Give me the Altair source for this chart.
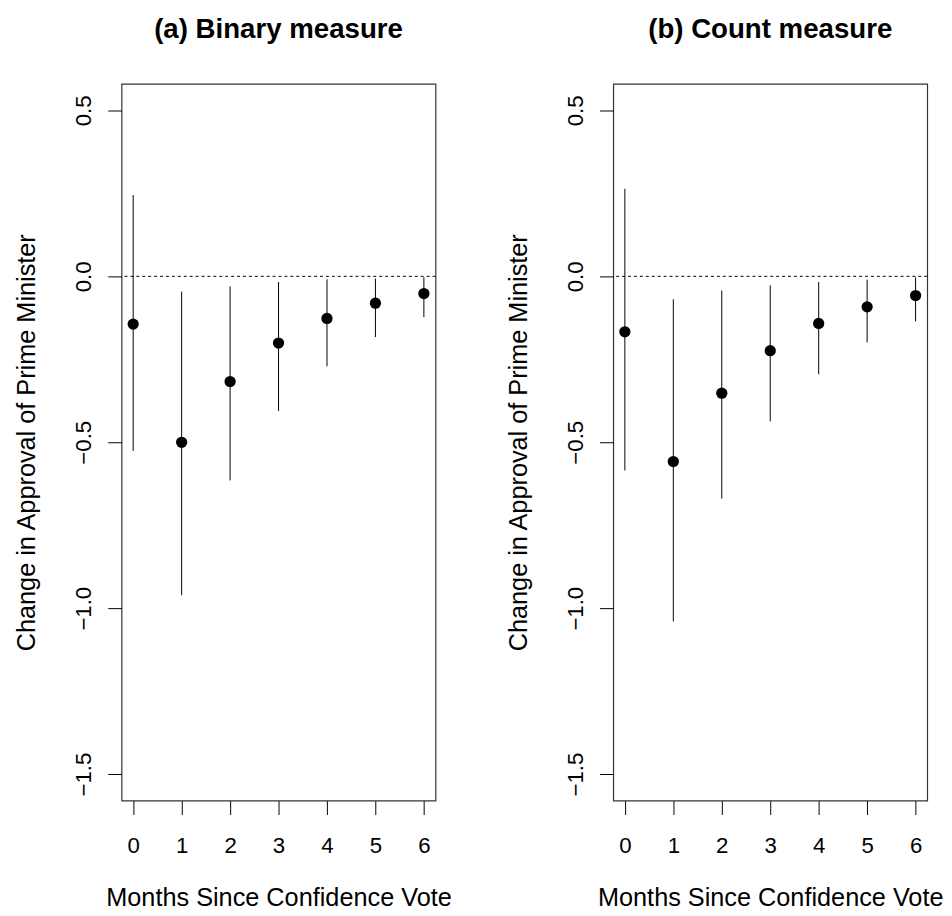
import altair as alt
import pandas as pd

months = [0, 1, 2, 3, 4, 5, 6]

binary_est = [-0.144, -0.500, -0.317, -0.201, -0.127, -0.081, -0.052]
binary_lo = [-0.526, -0.961, -0.615, -0.406, -0.271, -0.183, -0.123]
binary_hi = [0.245, -0.046, -0.030, -0.017, -0.009, -0.007, -0.003]

count_est = [-0.167, -0.558, -0.352, -0.224, -0.142, -0.092, -0.058]
count_lo = [-0.585, -1.040, -0.670, -0.437, -0.295, -0.199, -0.136]
count_hi = [0.264, -0.069, -0.043, -0.027, -0.017, -0.010, -0.003]

titles = ["(a) Binary measure", "(b) Count measure"]
y_ticks = [-1.5, -1.0, -0.5, 0.0, 0.5]
x_title = "Months Since Confidence Vote"
y_title = "Change in Approval of Prime Minister"

FONT = "Liberation Sans"
W, H = 318, 726


def panel(title, est, lo, hi):
    df = pd.DataFrame({"m": months, "est": est, "lo": lo, "hi": hi})
    xs = alt.Scale(domain=[-0.24, 6.24], nice=False, zero=False)
    ys = alt.Scale(domain=[-1.58, 0.58], nice=False, zero=False)
    xax = alt.Axis(values=months, format="d", grid=False, domain=False,
                   tickSize=14, tickColor="black", labelFont=FONT, labelFontSize=22.5,
                   labelColor="black", labelBaseline="alphabetic", labelPadding=38,
                   title=x_title, titleFont=FONT, titleFontSize=25.6, titleFontWeight="normal",
                   titleColor="black", titleBaseline="alphabetic", titleY=106)
    yax = alt.Axis(values=y_ticks, format=".1f", grid=False, domain=False,
                   tickSize=14, tickColor="black", labelFont=FONT, labelFontSize=22.5,
                   labelColor="black", labelAngle=270, labelAlign="center",
                   labelBaseline="alphabetic", labelPadding=17,
                   title=y_title, titleFont=FONT, titleFontSize=25.6, titleFontWeight="normal",
                   titleColor="black", titleAngle=270, titleBaseline="alphabetic",
                   titleX=-88, titleAlign="center")
    base = alt.Chart(df)
    ci = base.mark_rule(color="black", strokeWidth=1).encode(
        x=alt.X("m:Q", scale=xs, axis=xax),
        y=alt.Y("lo:Q", scale=ys, axis=yax),
        y2="hi:Q",
    )
    pts = base.mark_circle(color="black", opacity=1, size=130).encode(
        x=alt.X("m:Q", scale=xs),
        y=alt.Y("est:Q", scale=ys),
    )
    zero = alt.Chart(pd.DataFrame({"z": [0.0]})).mark_rule(
        color="black", strokeWidth=1, strokeDash=[3, 3]
    ).encode(y=alt.Y("z:Q", scale=ys))
    return alt.layer(ci, zero, pts).properties(
        width=W, height=H,
        title=alt.Title(title, font=FONT, fontSize=28, fontWeight="bold",
                        color="black", anchor="middle", baseline="alphabetic", offset=18),
    )


chart = alt.hconcat(
    panel(titles[0], binary_est, binary_lo, binary_hi),
    panel(titles[1], count_est, count_lo, count_hi),
    spacing=180, bounds="flush",
).properties(
    padding={"left": 6, "top": 2, "right": 0, "bottom": 0},
    background="white",
).configure_view(stroke="#333333", strokeWidth=1.2)

chart.save("out.html", embed_options={"renderer": "svg", "actions": False})
